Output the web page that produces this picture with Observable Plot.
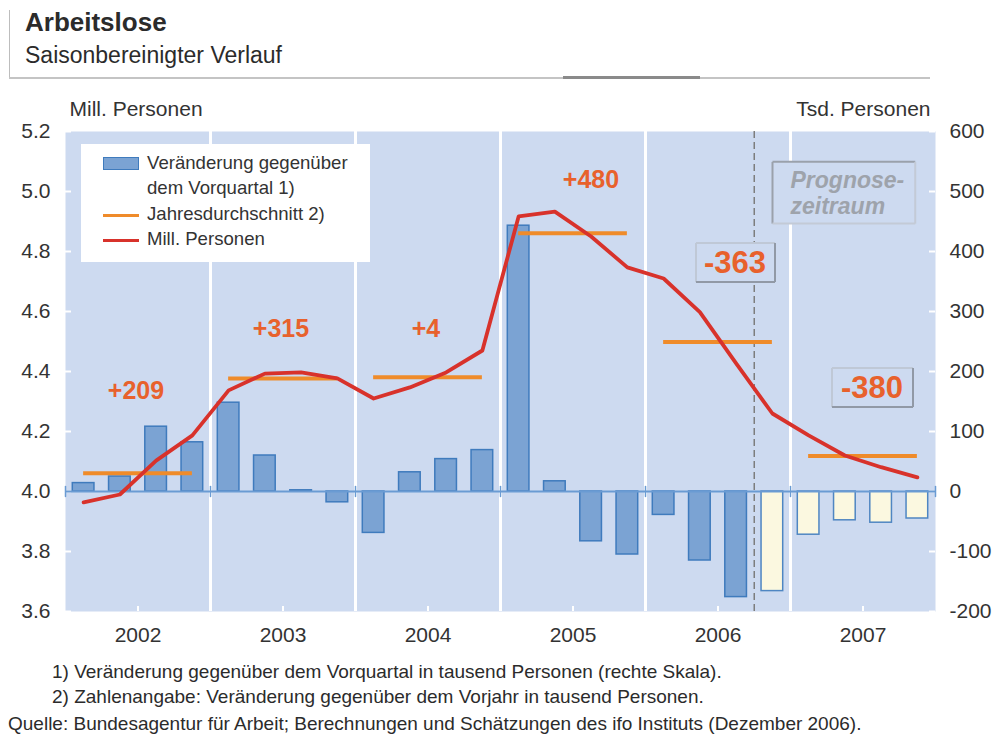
<!DOCTYPE html>
<html><head><meta charset="utf-8">
<script src="https://cdn.jsdelivr.net/npm/d3@7"></script>
<script src="https://cdn.jsdelivr.net/npm/@observablehq/plot@0.6"></script>
<style>
body{margin:0;background:#fff;font-family:"Liberation Sans",Arial,sans-serif;color:#2b2b2b;}
#wrap{position:relative;width:993px;height:737px;overflow:hidden;}
#chart{position:absolute;left:0;top:0;}
.abs{position:absolute;white-space:nowrap;}
.hline{position:absolute;}
.lg{position:absolute;font-size:18.6px;line-height:24px;color:#333;white-space:nowrap;}
.fn{position:absolute;font-size:19px;line-height:22px;color:#2b2b2b;white-space:nowrap;}
</style></head>
<body><div id="wrap">
<div id="chart"></div>
<div class="hline" style="left:9px;top:10px;width:1px;height:68px;background:#bdbdbd"></div>
<div class="hline" style="left:9px;top:77px;width:921px;height:1.5px;background:#c4c4c4"></div>
<div class="hline" style="left:563px;top:76px;width:137px;height:3px;background:#8a8a8a"></div>
<div class="abs" style="left:25px;top:6px;font-size:26px;font-weight:bold;line-height:32px;color:#2b2b2b">Arbeitslose</div>
<div class="abs" style="left:25px;top:41px;font-size:23px;line-height:28px;color:#2b2b2b">Saisonbereinigter Verlauf</div>
<div id="legend" style="position:absolute;left:81px;top:144px;width:289px;height:118px;background:#fff;">
</div>
<div class="fn" style="left:52px;top:661px">1) Veränderung gegenüber dem Vorquartal in tausend Personen (rechte Skala).</div>
<div class="fn" style="left:52px;top:686px">2) Zahlenangabe: Veränderung gegenüber dem Vorjahr in tausend Personen.</div>
<div class="fn" style="left:8px;top:713px">Quelle: Bundesagentur für Arbeit; Berechnungen und Schätzungen des ifo Instituts (Dezember 2006).</div>
</div>
<script>
// ---------- data ----------
const years = [2002, 2003, 2004, 2005, 2006, 2007];
// change vs. previous quarter, thousand persons (right scale)
const quarterChange = [14, 25, 108, 82,  148, 60, 2, -18,  -69, 32, 54, 69,  443, 17, -83, -105,  -39, -115, -176, -166,  -72, -48, -52, -45];
const forecastFrom = 19; // first forecast quarter (index)
// unemployed, million persons (left scale)
const millPersonen = [3.964, 3.990, 4.103, 4.187,  4.337, 4.393, 4.397, 4.377,  4.310, 4.347, 4.397, 4.470,  4.917, 4.933, 4.850, 4.747,  4.710, 4.598, 4.427, 4.260,  4.187, 4.120, 4.081, 4.047];
const annualAvg = [4.061, 4.377, 4.381, 4.861, 4.498, 4.118];
const annualChangeLabel = ["+209", "+315", "+4", "+480", "-363", "-380"];
const leftTicks = [3.6, 3.8, 4.0, 4.2, 4.4, 4.6, 4.8, 5.0, 5.2];
const rightTicks = [-200, -100, 0, 100, 200, 300, 400, 500, 600];
const legendLabels = ["Veränderung gegenüber", "dem Vorquartal 1)", "Jahresdurchschnitt 2)", "Mill. Personen"];
const prognoseText = "Prognose-\nzeitraum";

// ---------- layout / style ----------
const C = {
  bg: "#cddaf0", bar: "#7ba3d3", barStroke: "#3f7bbd", fcBar: "#fbf8e0", fcStroke: "#4f86c2",
  zero: "#6a9bd3", orange: "#ef8b2a", red: "#d8322b", label: "#e8612c", prog: "#9ea3ab"
};
// label offsets (px) relative to year centre / annual average
const labelOffsets = [[-2, -82], [-2, -49], [-2, -48], [18, -53], [17, -79], [9, -68]];

// right scale (Tsd.) mapped into left scale (Mill.): 0 ↔ 4.0, 600 ↔ 5.2
const toLeft = v => 4 + v * 0.002;
const fromLeft = y => String(Math.round((y - 4) / 0.002));

const bars = quarterChange.map((v, i) => ({i, v}));
const hist = bars.filter(d => d.i < forecastFrom);
const fc = bars.filter(d => d.i >= forecastFrom);
const annual = years.map((y, k) => ({k, year: y, avg: annualAvg[k], label: annualChangeLabel[k]}));
const boundaries = d3.range(1, years.length).map(k => k * 4);
const edges = d3.range(0, years.length + 1).map(k => k * 4);
const yearCenters = years.map((y, k) => k * 4 + 2);

const tickShape = {draw(ctx, l) { ctx.moveTo(0, 0); ctx.lineTo(0, -l); }};

const labelMarks = annual.map((d, k) => Plot.text([d], {
  x: d => d.k * 4 + 2, y: d => d.avg, text: d => d.label,
  dx: labelOffsets[k][0], dy: labelOffsets[k][1],
  fill: C.label, fontWeight: "bold", fontSize: k >= 4 ? 31 : 25
}));

const plot = Plot.plot({
  width: 993, height: 737,
  marginLeft: 65, marginRight: 58, marginTop: 131, marginBottom: 126,
  x: {domain: [0, 24]},
  y: {domain: [3.6, 5.2]},
  style: {fontFamily: "Liberation Sans, Arial, sans-serif", fontSize: "21px", color: "#333", background: "transparent", overflow: "visible"},
  marks: [
    Plot.frame({fill: C.bg, stroke: null}),
    Plot.ruleX(boundaries, {x: d => d, stroke: "white", strokeWidth: 3}),
    Plot.tickY(leftTicks, {y: d => d, stroke: "white", strokeWidth: 2, insetRight: 864}),
    Plot.tickY(rightTicks.map(toLeft), {y: d => d, stroke: "white", strokeWidth: 2, insetLeft: 864}),
    Plot.tickX(yearCenters, {x: d => d, stroke: "white", strokeWidth: 2, insetTop: 475}),
    Plot.rect(hist, {x1: d => d.i, x2: d => d.i + 1, y1: 4, y2: d => toLeft(d.v), insetLeft: 7.3, insetRight: 7.3, fill: C.bar, stroke: C.barStroke, strokeWidth: 1.5}),
    Plot.rect(fc, {x1: d => d.i, x2: d => d.i + 1, y1: 4, y2: d => toLeft(d.v), insetLeft: 7.3, insetRight: 7.3, fill: C.fcBar, stroke: C.fcStroke, strokeWidth: 1.5}),
    Plot.ruleY([4], {stroke: C.zero, strokeWidth: 2}),
    Plot.vector(edges, {x: d => d, y: 4, length: 10, rotate: 0, anchor: "middle", shape: tickShape, stroke: C.zero, strokeWidth: 1.5}),
    Plot.ruleX([forecastFrom], {x: d => d, stroke: "#7d7d7d", strokeWidth: 1.5, strokeDasharray: "7,4"}),
    Plot.ruleY(annual, {y: "avg", x1: d => d.k * 4 + 0.5, x2: d => d.k * 4 + 3.5, stroke: C.orange, strokeWidth: 4}),
    Plot.line(millPersonen, {x: (d, i) => i + 0.5, y: d => d, stroke: C.red, strokeWidth: 3.8, strokeLinejoin: "round"}),
    ...labelMarks,
    Plot.text([prognoseText], {x: 20, frameAnchor: "top", lineAnchor: "middle", dy: 61, text: d => d, textAnchor: "start", lineHeight: 1.12,
      fill: C.prog, fontWeight: "bold", fontStyle: "italic", fontSize: 23}),
    Plot.text(["Mill. Personen"], {frameAnchor: "top-left", lineAnchor: "middle", text: d => d, dx: 4, dy: -22, textAnchor: "start", fill: "#333"}),
    Plot.text(["Tsd. Personen"], {frameAnchor: "top-right", lineAnchor: "middle", text: d => d, dx: -5, dy: -22, textAnchor: "end", fill: "#333"}),
    Plot.axisY(leftTicks, {anchor: "left", tickSize: 0, tickPadding: 15, tickFormat: d => d.toFixed(1), label: null, fill: "#333"}),
    Plot.axisY(rightTicks.map(toLeft), {anchor: "right", tickSize: 0, tickPadding: 14, tickFormat: fromLeft, label: null, fill: "#333"}),
    Plot.axisX(yearCenters, {anchor: "bottom", tickSize: 0, tickPadding: 16, tickFormat: d => String(years[(d - 2) / 4]), label: null, fill: "#333"})
  ]
});
document.getElementById("chart").appendChild(plot);

// boxes behind selected labels (found by their text)
const NS = "http://www.w3.org/2000/svg";
function boxBehind(content, pad, light, dark, shadowBR) {
  const want = content.replace(/\n/g, "");
  const t = Array.from(plot.querySelectorAll("text")).find(e => e.textContent.replace(/\s/g, "") === want);
  if (!t) return;
  const b = t.getBBox();
  const x0 = b.x - pad[0], y0 = b.y - pad[1], x1 = b.x + b.width + pad[2], y1 = b.y + b.height + pad[3];
  const grp = document.createElementNS(NS, "g");
  const tr = t.getAttribute("transform");
  if (tr) grp.setAttribute("transform", tr);
  const r = document.createElementNS(NS, "rect");
  r.setAttribute("x", x0); r.setAttribute("y", y0);
  r.setAttribute("width", x1 - x0); r.setAttribute("height", y1 - y0);
  r.setAttribute("fill", C.bg);
  grp.appendChild(r);
  const line = (a, b2, c, d, col) => {
    const l = document.createElementNS(NS, "path");
    l.setAttribute("d", `M${a},${b2}L${c},${d}`);
    l.setAttribute("stroke", col); l.setAttribute("stroke-width", 2); l.setAttribute("fill", "none");
    grp.appendChild(l);
  };
  const tl = shadowBR ? light : dark, br = shadowBR ? dark : light;
  line(x0, y1, x0, y0, tl); line(x0, y0, x1, y0, tl);
  line(x1, y0, x1, y1, br); line(x0, y1, x1, y1, br);
  t.parentNode.insertBefore(grp, t);
}
boxBehind("-363", [8, 2, 9, 2], "#bfc8d6", "#9199a6", true);
boxBehind("-380", [9, 2, 10, 2], "#bfc8d6", "#9199a6", true);
boxBehind(prognoseText, [17, 5, 11, 5], "#c3cad6", "#9aa1ab", false);

// legend
const lg = document.getElementById("legend");
const rows = [[163, 0], [188, 1], [214, 2], [239, 3]];
rows.forEach(([cy, k]) => {
  const d = document.createElement("div");
  d.className = "lg";
  d.style.left = (147 - 81) + "px";
  d.style.top = (cy - 144 - 12) + "px";
  d.textContent = legendLabels[k];
  lg.appendChild(d);
});
const sw = document.createElement("div");
sw.style.cssText = `position:absolute;left:${103-81}px;top:${157-144}px;width:34px;height:11px;background:${C.bar};border:1px solid ${C.barStroke};`;
lg.appendChild(sw);
[[215, C.orange], [240, C.red]].forEach(([cy, col]) => {
  const l = document.createElement("div");
  l.style.cssText = `position:absolute;left:${103-81}px;top:${cy-144-1.5}px;width:36px;height:3px;background:${col};`;
  lg.appendChild(l);
});
</script>
</body></html>
